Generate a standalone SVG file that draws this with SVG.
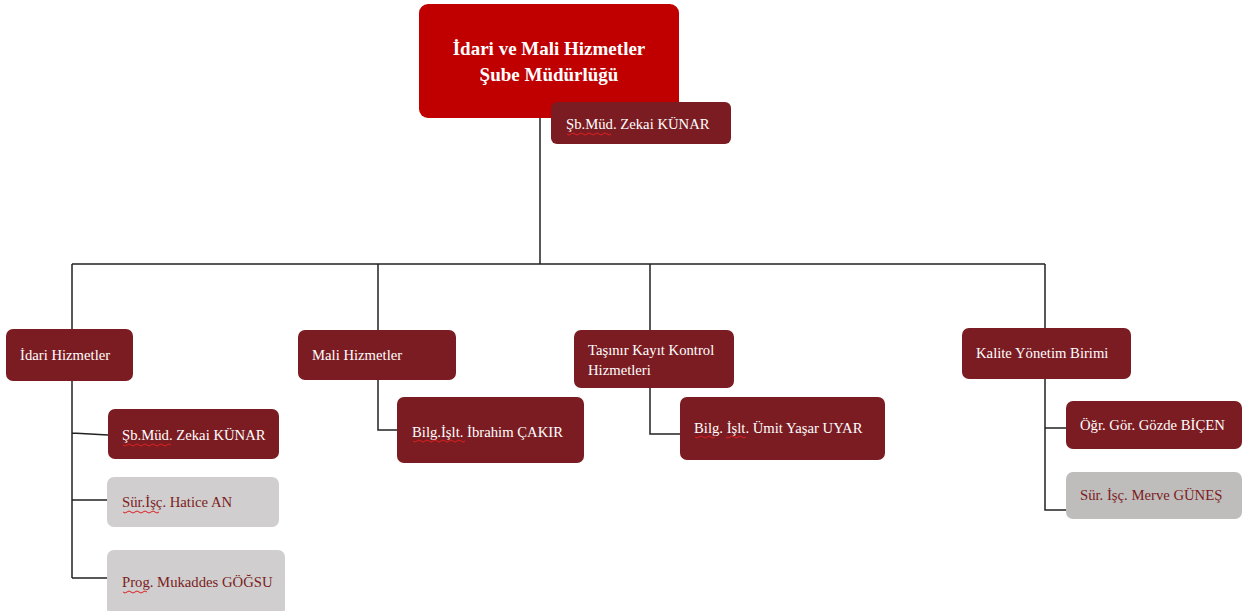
<svg xmlns="http://www.w3.org/2000/svg" width="1252" height="611" viewBox="0 0 1252 611">
<style>
.dk{fill:#7B1C22}
.gr{fill:#D0CECE}
.gr2{fill:#BFBCBC}
.t{font-family:"Liberation Serif","Times New Roman",serif;font-size:14.7px;fill:#FFFFFF}
.tg{font-family:"Liberation Serif","Times New Roman",serif;font-size:14.7px;fill:#7B1C22}
.title{font-family:"Liberation Serif","Times New Roman",serif;font-size:19px;font-weight:bold;fill:#FFFFFF}
.c{fill:none;stroke:#222;stroke-width:1.5}
.sq{fill:none;stroke:#E02020;stroke-width:1}
</style>
<rect width="1252" height="611" fill="#FFFFFF"/>
<g id="connectors">
<path class="c" d="M540 118V264M72 264H1045M72 264V329M378 264V330M650 264V330M1045 264V328"/>
<path class="c" d="M72 381V578M72 433L108 435M72 500H107M72 578H107"/>
<path class="c" d="M378 380V430H397"/>
<path class="c" d="M650 388V434H680"/>
<path class="c" d="M1045 379V510H1066M1045 428H1066"/>
</g>
<g id="top">
<rect x="419" y="4" width="260" height="114" rx="9" fill="#C00000"/>
<text class="title" x="549" y="55" text-anchor="middle">İdari ve Mali Hizmetler</text>
<text class="title" x="549" y="81" text-anchor="middle">Şube Müdürlüğü</text>
</g>
<g id="top-name">
<rect class="dk" x="551" y="102" width="180" height="42" rx="6"/>
<text class="t" x="566" y="129">Şb.Müd. Zekai KÜNAR</text>
<path class="sq" d="M567 134q2 2 4 0t4 0t4 0t4 0t4 0t4 0t4 0t4 0t4 0t4 0t4 0"/>
</g>
<g id="idari">
<rect class="dk" x="6" y="329" width="127" height="52" rx="7"/>
<text class="t" x="20" y="360">İdari Hizmetler</text>
</g>
<g id="idari-1">
<rect class="dk" x="108" y="409" width="171" height="50" rx="7"/>
<text class="t" x="122" y="440">Şb.Müd. Zekai KÜNAR</text>
<path class="sq" d="M123 445q2 2 4 0t4 0t4 0t4 0t4 0t4 0t4 0t4 0t4 0t4 0t4 0t4 0"/>
</g>
<g id="idari-2">
<rect class="gr" x="107" y="477" width="172" height="50" rx="7"/>
<text class="tg" x="122" y="507">Sür.İşç. Hatice AN</text>
<path class="sq" d="M123 512q2 2 4 0t4 0t4 0t4 0t4 0t4 0t4 0t4 0t4 0"/>
</g>
<g id="idari-3">
<rect class="gr" x="107" y="550" width="178" height="66" rx="7"/>
<text class="tg" x="122" y="587">Prog. Mukaddes GÖĞSU</text>
<path class="sq" d="M123 592q2 2 4 0t4 0t4 0t4 0t4 0t4 0"/>
</g>
<g id="mali">
<rect class="dk" x="298" y="330" width="158" height="50" rx="7"/>
<text class="t" x="312" y="360">Mali Hizmetler</text>
</g>
<g id="mali-1">
<rect class="dk" x="397" y="397" width="187" height="66" rx="7"/>
<text class="t" x="412" y="437">Bilg.İşlt. İbrahim ÇAKIR</text>
<path class="sq" d="M413 441q2 2 4 0t4 0t4 0t4 0t4 0t4 0t4 0t4 0t4 0t4 0t4 0t4 0t4 0"/>
</g>
<g id="tasinir">
<rect class="dk" x="574" y="330" width="160" height="58" rx="7"/>
<text class="t" x="588" y="355">Taşınır Kayıt Kontrol</text>
<text class="t" x="588" y="375">Hizmetleri</text>
</g>
<g id="tasinir-1">
<rect class="dk" x="680" y="397" width="205" height="63" rx="7"/>
<text class="t" x="694" y="433">Bilg. İşlt. Ümit Yaşar UYAR</text>
<path class="sq" d="M695 437q2 2 4 0t4 0t4 0t4 0t4 0M726 437q2 2 4 0t4 0t4 0t4 0t4 0"/>
</g>
<g id="kalite">
<rect class="dk" x="962" y="328" width="169" height="51" rx="7"/>
<text class="t" x="976" y="358">Kalite Yönetim Birimi</text>
</g>
<g id="kalite-1">
<rect class="dk" x="1066" y="401" width="176" height="48" rx="7"/>
<text class="t" x="1080" y="430">Öğr. Gör. Gözde BİÇEN</text>
</g>
<g id="kalite-2">
<rect class="gr2" x="1066" y="472" width="176" height="47" rx="7"/>
<text class="tg" x="1080" y="500">Sür. İşç. Merve GÜNEŞ</text>
</g>
</svg>
